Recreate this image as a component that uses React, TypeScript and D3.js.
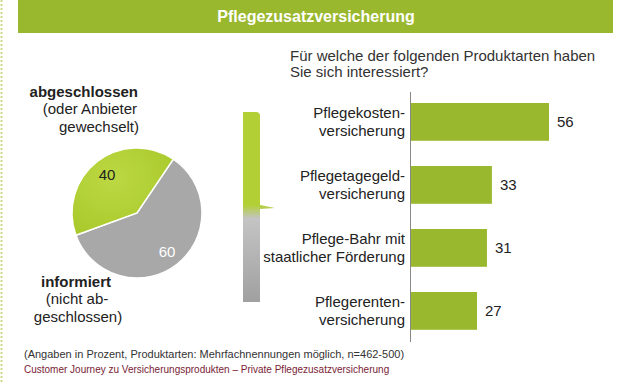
import React from "react";
import * as d3 from "d3";

const W = 621;
const H = 383;

const pieLabels = ["informiert", "abgeschlossen"];
const pieValues = [60, 40];
const pieColors = ["#a8a8a8", "#b2cf36"];

const barCategories = [
  ["Pflegekosten-", "versicherung"],
  ["Pflegetagegeld-", "versicherung"],
  ["Pflege-Bahr mit", "staatlicher Förderung"],
  ["Pflegerenten-", "versicherung"],
];
const barValues = [56, 33, 31, 27];

const title = "Pflegezusatzversicherung";
const questionLines = ["Für welche der folgenden Produktarten haben", "Sie sich interessiert?"];
const footnote = "(Angaben in Prozent, Produktarten: Mehrfachnennungen möglich, n=462-500)";
const source = "Customer Journey zu Versicherungsprodukten – Private Pflegezusatzversicherung";

const FONT = "'Liberation Sans', Arial, sans-serif";

export default function App() {
  const cx = 137;
  const cy = 213;
  const r = 65;
  const pie = d3
    .pie<number>()
    .sort(null)
    .startAngle((34 * Math.PI) / 180)
    .endAngle((34 * Math.PI) / 180 + 2 * Math.PI)(pieValues);
  const arc = d3.arc<d3.PieArcDatum<number>>().innerRadius(0).outerRadius(r);
  const labelArc = d3.arc<d3.PieArcDatum<number>>().innerRadius(r * 0.75).outerRadius(r * 0.75);

  const x = d3.scaleLinear().domain([0, 56]).range([410, 549]);
  const y = d3
    .scaleBand<number>()
    .domain(barValues.map((_, i) => i))
    .range([90.4, 342.4])
    .paddingInner(0.4)
    .paddingOuter(0.2);

  return (
    <svg
      width={W}
      height={H}
      style={{ position: "absolute", left: 0, top: 0, background: "#fff" }}
      fontFamily={FONT}
    >
      <defs>
        <linearGradient id="brace" x1="0" y1="0" x2="0" y2="1">
          <stop offset="0%" stopColor="#b2cf36" />
          <stop offset="49%" stopColor="#b2cf36" />
          <stop offset="56%" stopColor="#c4c4c4" />
          <stop offset="100%" stopColor="#a0a0a0" />
        </linearGradient>
        <radialGradient id="gGrad" cx="40%" cy="35%" r="70%">
          <stop offset="0%" stopColor="#bcd843" />
          <stop offset="100%" stopColor="#a9c92c" />
        </radialGradient>
      </defs>

      {/* dotted left border */}
      <line x1={1.5} y1={0} x2={1.5} y2={H} stroke="#c9dc8a" strokeWidth={2} strokeDasharray="2,2" />

      {/* title bar */}
      <rect x={18} y={0} width={595} height={33} fill="#9ab82e" />
      <text x={316} y={22} textAnchor="middle" fill="#fff" fontSize={16} fontWeight="bold">
        {title}
      </text>

      {/* pie */}
      <g transform={`translate(${cx},${cy})`}>
        {pie.map((d, i) => (
          <path
            key={pieLabels[i]}
            d={arc(d) || ""}
            fill={i === 1 ? "url(#gGrad)" : pieColors[i]}
            stroke="#fff"
            strokeWidth={1.5}
          />
        ))}
        {pie.map((d, i) => {
          const [lx, ly] = labelArc.centroid(d);
          return (
            <text
              key={"l" + i}
              x={lx}
              y={ly}
              textAnchor="middle"
              dominantBaseline="central"
              fontSize={15}
              fill={i === 0 ? "#fff" : "#222"}
            >
              {pieValues[i]}
            </text>
          );
        })}
      </g>

      <g fontSize={15} fill="#222" textAnchor="end">
        <text x={138} y={97} fontWeight="bold">abgeschlossen</text>
        <text x={137} y={114}>(oder Anbieter</text>
        <text x={139} y={132}>gewechselt)</text>
      </g>
      <g fontSize={15} fill="#222" textAnchor="middle">
        <text x={76} y={287} fontWeight="bold">informiert</text>
        <text x={77} y={304}>(nicht ab-</text>
        <text x={78} y={322}>geschlossen)</text>
      </g>

      {/* brace */}
      <path
        d="M243,112 L256,112 Q260,112 260,116 L260,205 L275,208 L260,209 L260,302 L243,302 Z"
        fill="url(#brace)"
      />

      {/* question */}
      <g fontSize={15} fill="#333">
        <text x={290} y={61}>{questionLines[0]}</text>
        <text x={290} y={77}>{questionLines[1]}</text>
      </g>

      {/* bars */}
      {barValues.map((v, i) => (
        <rect
          key={"b" + i}
          x={x(0)}
          y={y(i)}
          width={x(v) - x(0)}
          height={y.bandwidth()}
          fill="#9ab82e"
        />
      ))}
      <line x1={410.5} y1={92} x2={410.5} y2={342} stroke="#888" strokeWidth={1} />
      {barValues.map((v, i) => {
        const c = (y(i) || 0) + y.bandwidth() / 2;
        return (
          <g key={"t" + i} fontSize={15} fill="#222">
            <text x={405} y={c - 4} textAnchor="end">{barCategories[i][0]}</text>
            <text x={405} y={c + 14} textAnchor="end">{barCategories[i][1]}</text>
            <text x={x(v) + 8} y={c + 5}>{v}</text>
          </g>
        );
      })}

      {/* footnotes */}
      <text x={24} y={358} fontSize={11} fill="#333">{footnote}</text>
      <text x={24} y={373} fontSize={10} fill="#7a2335">{source}</text>
    </svg>
  );
}
